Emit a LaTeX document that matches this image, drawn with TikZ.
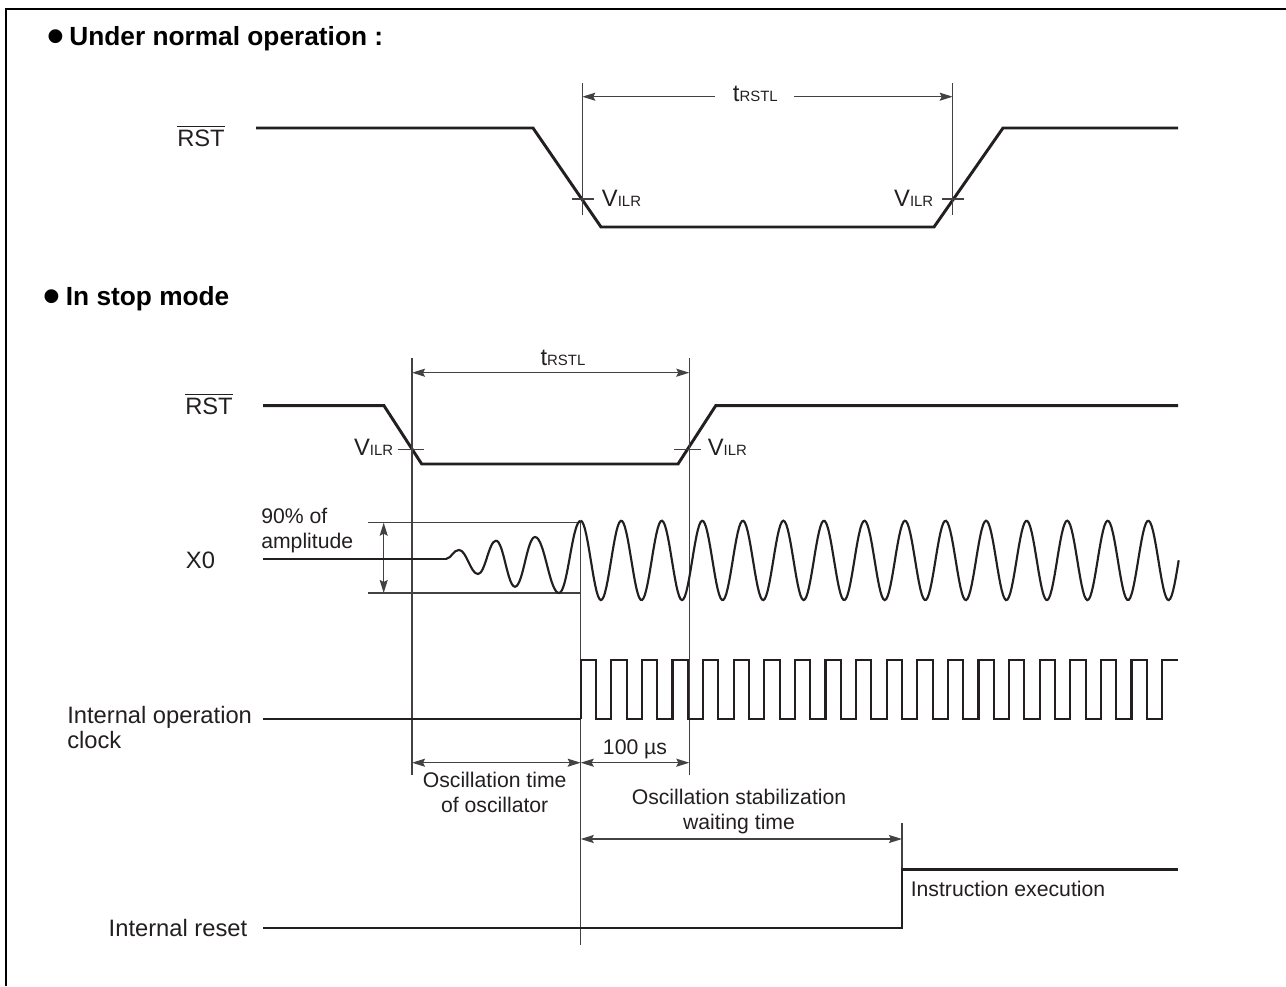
\documentclass[tikz,border=0pt]{standalone}
\usepackage{amsmath,amssymb}
\usepackage{fontspec}
\setmainfont{Liberation Sans}
\usepackage{tikz}
\usetikzlibrary{arrows.meta}

\definecolor{inkdark}{HTML}{231F20}
\newcommand{\sublabel}[2]{#1{\fontsize{11.2}{12}\selectfont #2}}
\newcommand{\rstbar}{$\overline{\mbox{RST}}$}
\newcommand{\headbullet}{{\fontsize{36}{36}\selectfont\raisebox{-5.8pt}{\textbullet}}\hspace{4pt}}

\begin{document}
\begin{tikzpicture}[x=0.75pt, y=-0.75pt, >={Stealth[length=9.75pt,width=6pt,inset=1.5pt]},
      every node/.style={font=\fontsize{17.8}{18.75}\selectfont, text=inkdark, inner sep=0pt},
      smalltext/.style={font=\fontsize{15.9}{18.75}\selectfont},
      sigline/.style={inkdark, line width=2.2pt, line join=miter},
      waveline/.style={inkdark, line width=1.6pt, line join=miter},
      thinline/.style={inkdark!85, line width=1pt},
      dimline/.style={thinline, <->},
      heading/.style={anchor=base west, text=black, font=\fontsize{19.7}{22}\selectfont\bfseries}]
      \useasboundingbox (0,0) rectangle (1286,986);

      % Frame (top and left side only)
      \draw[black, line width=1.75pt] (6,986) -- (6,9) -- (1286,9);

      % Headings
      \node[heading] (headnormal) at (47,45) {\headbullet Under normal operation :};
      \node[heading] (headstop) at (43.5,305) {\headbullet In stop mode};

      % Normal operation: reset signal
      \node[anchor=base] (rsttop) at (201,146.7) {\rstbar};
      \draw[sigline] (256,128) -- (533,128) -- (601,227) -- (934,227) -- (1003,128) -- (1178,128);
      \draw[thinline] (582.3,83) -- (582.3,215);
      \draw[thinline] (952.7,83) -- (952.7,215);
      \draw[thinline] (571.7,199) -- (594.3,199);
      \draw[thinline] (942,199) -- (964,199);
      \node[anchor=base] (tnormal) at (755.3,101) {\sublabel{t}{RSTL}};
      \draw[thinline, <-] (582.3,96.7) -- (715,96.7);
      \draw[thinline, ->] (794,96.7) -- (952.7,96.7);
      \node[anchor=base west] (vilrnormala) at (601.7,206) {\sublabel{V}{ILR}};
      \node[anchor=base east] (vilrnormalb) at (933.5,206) {\sublabel{V}{ILR}};

      % Stop mode: reset signal
      \node[anchor=base] (rstbot) at (209,414) {\rstbar};
      \draw[sigline] (263,405.7) -- (384,405.7) -- (421.7,464) -- (678,464) -- (715.7,405.7) -- (1178,405.7);
      \draw[thinline] (412,358) -- (412,775);
      \draw[thinline] (689.3,358) -- (689.3,775);
      \draw[thinline] (580.7,522.7) -- (580.7,945);
      \draw[thinline] (397.7,449.3) -- (424.3,449.3);
      \draw[thinline] (674,449.3) -- (701,449.3);
      \node[anchor=base] (tstop) at (563,365) {\sublabel{t}{RSTL}};
      \draw[dimline] (412,372.7) -- (689.3,372.7);
      \node[anchor=base east] (vilrstopa) at (393.5,455) {\sublabel{V}{ILR}};
      \node[anchor=base west] (vilrstopb) at (707.5,455) {\sublabel{V}{ILR}};

      % X0 oscillator: growing part, then steady sine
      \node[anchor=base] (xzero) at (200.5,568) {X0};
      \node[anchor=west, align=left, smalltext] (ampnote) at (261,530.3) {90\% of\\amplitude};
      \draw[thinline] (368,522.7) -- (580.7,522.7);
      \draw[thinline] (368,593) -- (580.7,593);
      \draw[dimline] (383.7,522.7) -- (383.7,593);
      \draw[sigline] (263,559) -- (447,559);
      \draw[waveline] (446,559) .. controls (452,558) and (453,550) .. (459,550)
        foreach \xnext/\ynext/\ctrl in {478/574/7.6, 496/540.7/7.2, 515/586.7/7.6, 535/537/8, 559/593/9.6, 580.7/520.7/8.7} {
          .. controls +(\ctrl,0) and +(-\ctrl,0) .. (\xnext,\ynext) };
      \draw[waveline] plot[domain=580.7:1178.7, samples=420] (\x,{560.4-39.7*cos(8.880*(\x-580.7))});

      % Internal operation clock
      \node[anchor=west, align=left] (clocklbl) at (67,727.3) {Internal operation\\clock};
      \draw[sigline] (263,719) -- (580.7,719);
      \draw[waveline] (580.7,719) foreach \k in {0,...,18} {
        -- ++(0,-59) -- ++(15.3,0) -- ++(0,59) -- ++(15.3,0) } -- ++(0,-59) -- (1178,660);

      % Time spans under the clock
      \draw[dimline] (412,762.7) -- (580.7,762.7);
      \draw[dimline] (580.7,762.7) -- (689.3,762.7);
      \node[anchor=base, smalltext] (hundredus) at (635,754.3) {100 µs};
      \node[align=center, smalltext] (osctime) at (494.7,792.6) {Oscillation time\\of oscillator};
      \node[align=center, smalltext] (stabtime) at (739,812) {Oscillation stabilization\\waiting time};
      \draw[dimline] (580.7,839) -- (902,839);

      % Internal reset
      \node[anchor=base] (resetlbl) at (178,936.7) {Internal reset};
      \node[anchor=base west, smalltext] (execlbl) at (910.5,896.7) {Instruction execution};
      \draw[thinline] (902,822.7) -- (902,869);
      \draw[sigline] (263,928) -- (902,928) -- (902,869.3) -- (1178,869.3);
    \end{tikzpicture}
\end{document}
